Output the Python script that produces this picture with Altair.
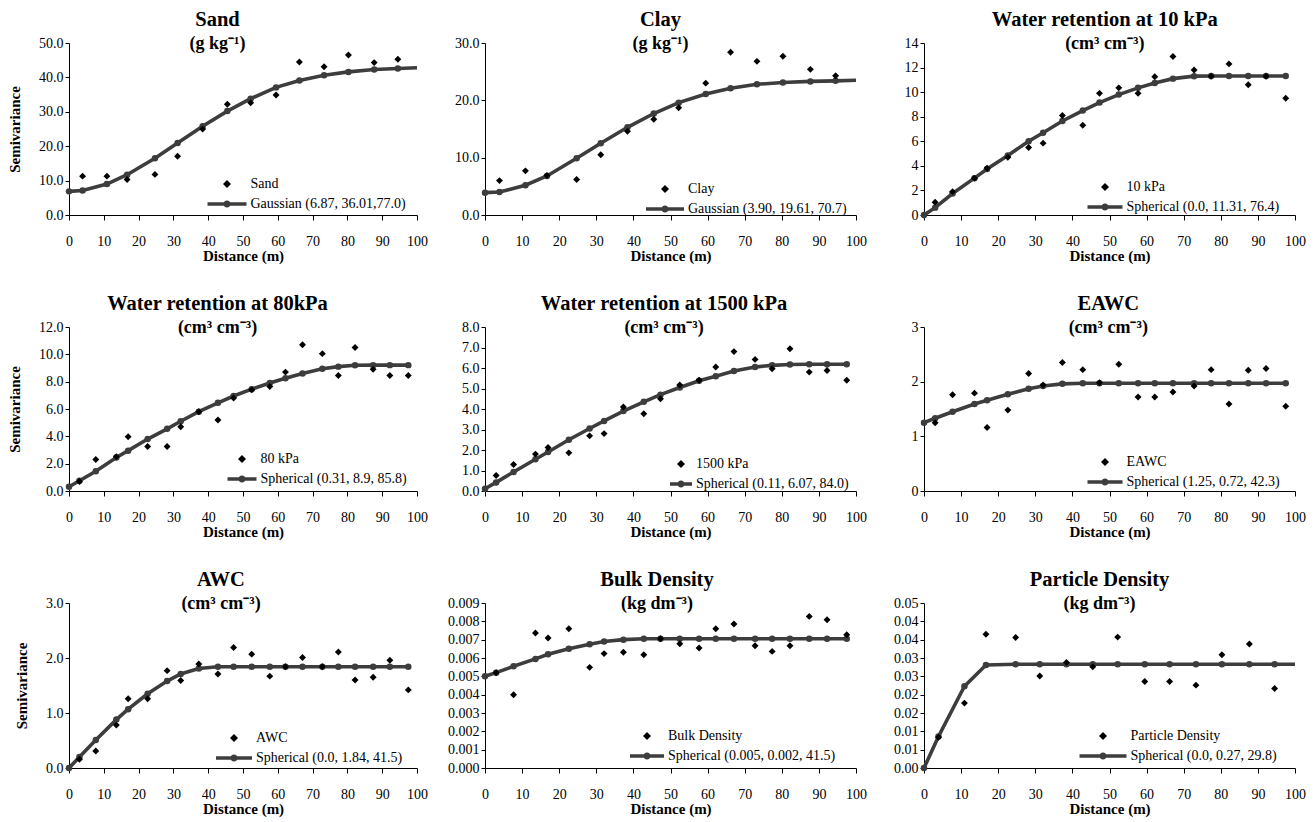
import altair as alt
import pandas as pd

FONT = "Liberation Serif"
GRAY = "#3d3d3d"

# ---- lag distances (m) ----
LAGS_A = [3.9, 10.9, 16.7, 24.7, 31.2, 38.4, 45.5, 52.2, 59.5, 66.2, 73.3, 80.3, 87.7, 94.5]
LAGS_B = [3.0, 7.7, 13.6, 17.0, 22.6, 28.2, 32.1, 37.3, 42.8, 47.3, 52.5, 57.7, 62.2, 67.1,
          72.8, 77.4, 82.2, 87.4, 92.2, 97.5]
FIT_X_A = [0] + LAGS_A + [100]
FIT_X_B = [0] + LAGS_B

# ---- observed semivariances / fitted model values ----
sand_obs = [11.3, 11.3, 10.3, 11.8, 17.1, 25.0, 32.2, 32.6, 34.9, 44.5, 43.1, 46.5, 44.3, 45.3]
sand_fit = [6.87, 7.1, 9.0, 11.7, 16.5, 20.9, 25.8, 30.2, 33.8, 37.1, 39.1, 40.6, 41.6, 42.3, 42.6, 42.8]

clay_obs = [6.0, 7.7, 6.9, 6.2, 10.5, 14.6, 16.7, 18.7, 23.0, 28.4, 26.8, 27.7, 25.4, 24.3]
clay_fit = [3.9, 4.0, 5.2, 6.8, 9.9, 12.5, 15.3, 17.7, 19.6, 21.1, 22.1, 22.8, 23.1, 23.3, 23.4, 23.5]

k10_obs = [1.04, 1.9, 3.0, 3.8, 4.7, 5.5, 5.85, 8.1, 7.3, 9.9, 10.35, 9.9, 11.25, 12.9, 11.8,
           11.3, 12.3, 10.6, 11.3, 9.5]
k10_fit = [0.0, 0.6, 1.75, 3.0, 3.75, 4.85, 6.0, 6.7, 7.65, 8.5, 9.15, 9.8, 10.35, 10.75, 11.1,
           11.3, 11.31, 11.31, 11.31, 11.31, 11.31]

k80_obs = [0.7, 2.3, 2.5, 3.97, 3.26, 3.26, 4.7, 5.8, 5.2, 6.8, 7.4, 7.65, 8.7, 10.7, 10.05,
           8.45, 10.5, 8.9, 8.45, 8.45]
k80_fit = [0.31, 0.75, 1.45, 2.45, 2.95, 3.8, 4.55, 5.1, 5.8, 6.45, 6.95, 7.45, 7.9, 8.25, 8.6,
           8.95, 9.1, 9.2, 9.21, 9.21, 9.21]

k1500_obs = [0.76, 1.29, 1.8, 2.12, 1.86, 2.69, 2.8, 4.1, 3.77, 4.5, 5.17, 5.4, 6.05, 6.8, 6.42,
             5.96, 6.94, 5.8, 5.88, 5.4]
k1500_fit = [0.11, 0.42, 0.93, 1.55, 1.9, 2.5, 3.05, 3.42, 3.9, 4.35, 4.7, 5.05, 5.38, 5.6, 5.85,
             6.05, 6.13, 6.17, 6.18, 6.18, 6.18]

eawc_obs = [1.25, 1.76, 1.79, 1.16, 1.48, 2.15, 1.94, 2.35, 2.22, 1.98, 2.32, 1.72, 1.72, 1.81,
            1.92, 2.22, 1.59, 2.21, 2.24, 1.55]
eawc_fit = [1.25, 1.33, 1.45, 1.59, 1.66, 1.77, 1.87, 1.92, 1.96, 1.97, 1.97, 1.97, 1.97, 1.97,
            1.97, 1.97, 1.97, 1.97, 1.97, 1.97, 1.97]

awc_obs = [0.16, 0.31, 0.78, 1.26, 1.26, 1.77, 1.59, 1.89, 1.71, 2.19, 2.07, 1.67, 1.84, 2.01,
           1.84, 2.11, 1.60, 1.65, 1.96, 1.42]
awc_fit = [0.0, 0.2, 0.51, 0.88, 1.07, 1.35, 1.58, 1.71, 1.81, 1.84, 1.84, 1.84, 1.84, 1.84,
           1.84, 1.84, 1.84, 1.84, 1.84, 1.84, 1.84]

bd_obs = [0.0052, 0.0040, 0.00736, 0.00709, 0.0076, 0.00549, 0.00624, 0.00631, 0.00618, 0.00705,
          0.00678, 0.00655, 0.0076, 0.00785, 0.00667, 0.00636, 0.00667, 0.00827, 0.00809, 0.00727]
bd_fit = [0.005, 0.0052, 0.00555, 0.00595, 0.0062, 0.0065, 0.00675, 0.0069, 0.0070, 0.00705,
          0.00705, 0.00705, 0.00705, 0.00705, 0.00705, 0.00705, 0.00705, 0.00705, 0.00705,
          0.00705, 0.00705]

pd_obs = [0.0084, 0.0177, 0.0365, 0.0356, 0.0251, 0.0288, 0.0276, 0.0357, 0.0236, 0.0236,
          0.0226, 0.0309, 0.0338, 0.0217]
pd_fit = [0.0, 0.0086, 0.0223, 0.0281, 0.0283, 0.0283, 0.0283, 0.0283, 0.0283, 0.0283, 0.0283,
          0.0283, 0.0283, 0.0283, 0.0283, 0.0283]

# ---- titles / labels ----
TITLES = ["Sand", "Clay", "Water retention at 10 kPa", "Water retention at 80kPa",
          "Water retention at 1500 kPa", "EAWC", "AWC", "Bulk Density", "Particle Density"]
UNITS = ["(g kg\u207b\u00b9)", "(g kg\u207b\u00b9)", "(cm\u00b3 cm\u207b\u00b3)", "(cm\u00b3 cm\u207b\u00b3)",
         "(cm\u00b3 cm\u207b\u00b3)", "(cm\u00b3 cm\u207b\u00b3)", "(cm\u00b3 cm\u207b\u00b3)",
         "(kg dm\u207b\u00b3)", "(kg dm\u207b\u00b3)"]
OBS_LABELS = ["Sand", "Clay", "10 kPa", "80 kPa", "1500 kPa", "EAWC", "AWC", "Bulk Density",
              "Particle Density"]
FIT_LABELS = ["Gaussian (6.87, 36.01,77.0)", "Gaussian (3.90, 19.61, 70.7)",
              "Spherical (0.0, 11.31, 76.4)", "Spherical (0.31, 8.9, 85.8)",
              "Spherical (0.11, 6.07, 84.0)", "Spherical (1.25, 0.72, 42.3)",
              "Spherical (0.0, 1.84, 41.5)", "Spherical (0.005, 0.002, 41.5)",
              "Spherical (0.0, 0.27, 29.8)"]
Y_TICKS = [
    [0, 10, 20, 30, 40, 50],
    [0, 10, 20, 30],
    [0, 2, 4, 6, 8, 10, 12, 14],
    [0, 2, 4, 6, 8, 10, 12],
    [0, 1, 2, 3, 4, 5, 6, 7, 8],
    [0, 1, 2, 3],
    [0, 1, 2, 3],
    [0, 0.001, 0.002, 0.003, 0.004, 0.005, 0.006, 0.007, 0.008, 0.009],
    [0, 0.005, 0.01, 0.015, 0.02, 0.025, 0.03, 0.035, 0.04, 0.045],
]
Y_FMT = [".1f", ".1f", "d", ".1f", ".1f", "d", ".1f", ".3f", ".2f"]
X_TICKS = [0, 10, 20, 30, 40, 50, 60, 70, 80, 90, 100]

OBS = [sand_obs, clay_obs, k10_obs, k80_obs, k1500_obs, eawc_obs, awc_obs, bd_obs, pd_obs]
FIT = [sand_fit, clay_fit, k10_fit, k80_fit, k1500_fit, eawc_fit, awc_fit, bd_fit, pd_fit]
OBS_X = [LAGS_A, LAGS_A, LAGS_B, LAGS_B, LAGS_B, LAGS_B, LAGS_B, LAGS_B, LAGS_A]
FIT_XS = [FIT_X_A, FIT_X_A, FIT_X_B, FIT_X_B, FIT_X_B, FIT_X_B, FIT_X_B, FIT_X_B, FIT_X_A]

# ---- layout (plot-area sizes, legend placement) ----
COL_W = [348, 371, 371]
ROW_H = [172, 164, 165]
LEG_X = [151, 173, 174, 166, 189, 174, 158, 155, 172]
LEG_Y = [134, 139, 137, 125, 130, 128, 128, 126, 126]
LEG_LEN = [39, 38, 35, 29, 22, 35, 36, 34, 47]


def line_symbol(length):
    # legend symbol: thick line with a circle marker in the middle (units of 4 px)
    h = length / 8.0
    t = 0.42
    r = 0.9
    return (f"M{-h},{-t}L{h},{-t}L{h},{t}L{-h},{t}Z "
            f"M{r},0A{r},{r} 0 1,1 {-r},0A{r},{r} 0 1,1 {r},0Z")


def panel(i):
    obs = pd.DataFrame({"x": OBS_X[i], "y": OBS[i], "s": OBS_LABELS[i]})
    fit = pd.DataFrame({"x": FIT_XS[i], "y": FIT[i]})
    ticks = Y_TICKS[i]
    yaxis_kw = dict(values=ticks, format=Y_FMT[i], tickSize=4, labelPadding=2,
                    labelOverlap=False, labelFlush=False)
    if i == 8:
        yaxis_kw["labelExpr"] = "format(datum.value + 1e-9, '.2f')"
    if i % 3 == 0:
        yaxis_kw["title"] = "Semivariance"
        yaxis_kw["titlePadding"] = 16
    else:
        yaxis_kw["title"] = None
    xenc = alt.X("x:Q", scale=alt.Scale(domain=[0, 100], nice=False),
                 axis=alt.Axis(values=X_TICKS, title="Distance (m)", format="d",
                               labelFlush=False, labelOverlap=False, tickSize=5,
                               labelPadding=14, titlePadding=0))
    yenc = alt.Y("y:Q", scale=alt.Scale(domain=[0, ticks[-1]], nice=False),
                 axis=alt.Axis(**yaxis_kw))
    line = alt.Chart(fit).mark_line(color=GRAY, strokeWidth=3.6).encode(x=xenc, y=yenc)
    marks = (alt.Chart(fit).transform_filter("datum.x < 99")
             .mark_circle(color=GRAY, size=42, opacity=1)
             .encode(x=xenc, y=yenc))
    dom = [OBS_LABELS[i], FIT_LABELS[i]]
    L = LEG_LEN[i]
    legend = alt.Legend(orient="none", legendX=LEG_X[i], legendY=LEG_Y[i], title=None,
                        labelFont=FONT, labelFontSize=14, labelColor="black",
                        symbolSize=64, symbolStrokeWidth=0, rowPadding=6,
                        labelOffset=L / 2 - 3, padding=0, labelLimit=400)
    pts = alt.Chart(obs).mark_point(filled=True, opacity=1, size=48).encode(
        x=xenc, y=yenc,
        color=alt.Color("s:N", scale=alt.Scale(domain=dom, range=["black", GRAY]), legend=legend),
        shape=alt.Shape("s:N", scale=alt.Scale(domain=dom, range=["diamond", line_symbol(L)]),
                        legend=legend),
    )
    title = alt.TitleParams(text=TITLES[i], subtitle=UNITS[i], font=FONT, fontSize=20.5,
                            fontWeight="bold", color="black", subtitleFont=FONT,
                            subtitleFontSize=18, subtitleFontWeight="bold",
                            subtitleColor="black", subtitlePadding=5, offset=-17,
                            anchor="middle", frame="bounds")
    return alt.layer(line, marks, pts).properties(
        width=COL_W[i % 3], height=ROW_H[i // 3], title=title)


P = [panel(i) for i in range(9)]

chart = alt.concat(*P, columns=3, spacing=alt.RowColnumber(row=112, column=68), bounds="flush")
chart = chart.resolve_scale(color="independent", shape="independent").resolve_legend(
    color="independent", shape="independent")
chart = chart.properties(
    padding={"left": 7, "top": 9, "right": 5, "bottom": 5},
    background="white",
).configure_view(stroke=None).configure_axis(
    labelFont=FONT, labelFontSize=14, labelColor="black", titleFont=FONT, titleFontSize=15,
    titleFontWeight="bold", titleColor="black", domainColor="black", tickColor="black",
    domainWidth=1, tickWidth=1, grid=False,
)

chart.save("out.html", embed_options={"renderer": "svg", "actions": False})
